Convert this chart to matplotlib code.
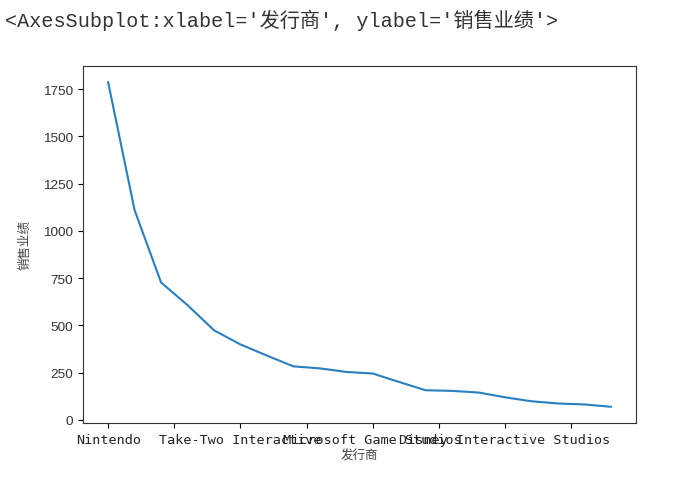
import numpy as np
import matplotlib
matplotlib.use("Agg")
from matplotlib import pyplot as plt

# publishers ranked by total sales
publishers = ["Nintendo", "Electronic Arts", "Activision", "Sony Computer Entertainment",
              "Ubisoft", "Take-Two Interactive", "THQ", "Konami Digital Entertainment",
              "Sega", "Namco Bandai Games", "Microsoft Game Studios", "Capcom", "Atari",
              "Warner Bros. Interactive Entertainment", "Square Enix",
              "Disney Interactive Studios", "Eidos Interactive", "LucasArts",
              "Bethesda Softworks", "Midway Games"]
sales = [1786.56, 1110.32, 727.46, 607.50, 474.72, 399.54, 340.77, 283.64, 272.99,
         254.09, 245.79, 200.89, 157.22, 153.89, 145.18, 119.96, 98.98, 87.34,
         82.14, 69.85]
yticks = [0, 250, 500, 750, 1000, 1250, 1500, 1750]

fig = plt.figure(figsize=(6.81, 4.81), dpi=100)
fig.text(5 / 681, 1 - 20 / 481, "<AxesSubplot:xlabel='发行商', ylabel='销售业绩'>",
         family=["Liberation Mono", "Noto Sans CJK SC"], fontsize=14.5,
         color="#333333", va="center", ha="left")

ax = fig.add_axes([83 / 681, 57 / 481, 553 / 681, 357 / 481])
x = np.arange(len(publishers))
ax.plot(x, sales, color="#2a7fc0", linewidth=1.5)

# pandas-style ticks: every 2.5 positions, labelled only on whole numbers
tickpos = np.arange(0, len(publishers), 2.5)
ticklab = [publishers[int(p)] if p == int(p) else "" for p in tickpos]
ax.set_xticks(tickpos, ticklab, family=["DejaVu Sans Mono", "Noto Sans CJK SC"], fontsize=9.7,
              color="#222222")
ax.set_yticks(yticks, [str(v) for v in yticks], family="Liberation Sans", fontsize=9.7,
              color="#333333")

ax.set_xlabel("发行商", family=["Noto Sans CJK SC"], fontsize=9, color="#444444", labelpad=2)
ax.set_ylabel("销售业绩", family=["Noto Sans CJK SC"], fontsize=9, color="#444444", labelpad=8)

for s in ax.spines.values():
    s.set_color("#333333")

fig.savefig("out.png", dpi=100)
